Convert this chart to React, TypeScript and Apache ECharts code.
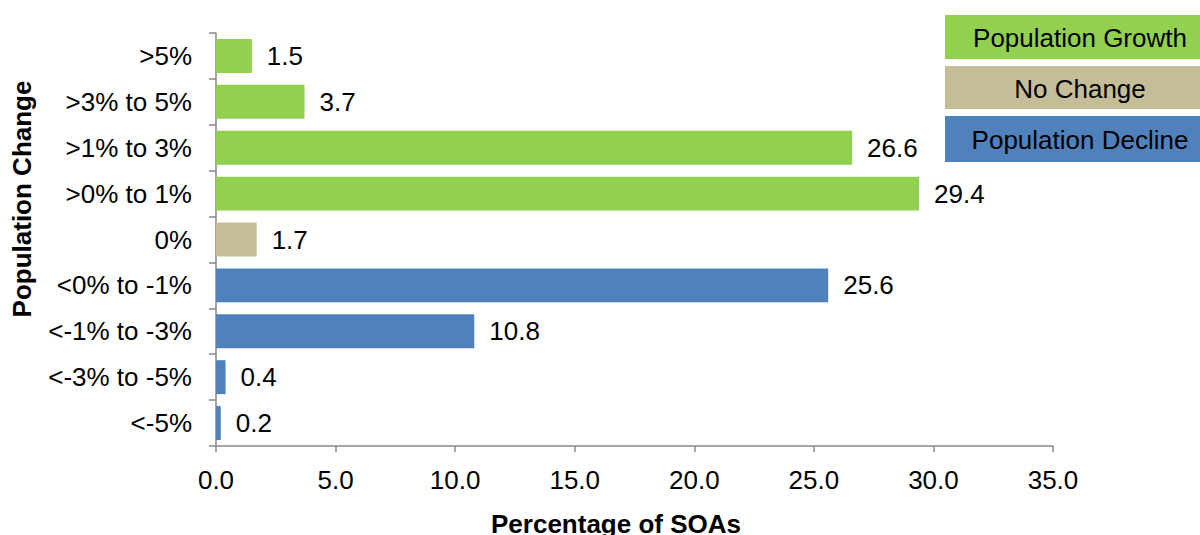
import React, { useEffect, useRef } from "react";
import * as echarts from "echarts";

const categories = [">5%", ">3% to 5%", ">1% to 3%", ">0% to 1%", "0%", "<0% to -1%", "<-1% to -3%", "<-3% to -5%", "<-5%"];
const values = [1.5, 3.7, 26.6, 29.4, 1.7, 25.6, 10.8, 0.4, 0.2];
const groups = ["growth", "growth", "growth", "growth", "none", "decline", "decline", "decline", "decline"];
const legendItems = [
  { key: "growth", label: "Population Growth" },
  { key: "none", label: "No Change" },
  { key: "decline", label: "Population Decline" },
];
const colors: Record<string, string> = { growth: "#92D050", none: "#C4BD97", decline: "#4F81BD" };

const FONT = "'Liberation Sans', Arial, sans-serif";

export default function App() {
  const ref = useRef<HTMLDivElement>(null);
  useEffect(() => {
    if (!ref.current) return;
    const chart = echarts.init(ref.current, null, { renderer: "svg" });
    const legendTops = [15, 66, 116];
    const legendHeights = [44, 43, 46];
    const legendGraphics: any[] = [];
    legendItems.forEach((it, i) => {
      legendGraphics.push({
        type: "rect",
        shape: { x: 945, y: legendTops[i], width: 260, height: legendHeights[i] },
        style: { fill: colors[it.key] },
      });
      legendGraphics.push({
        type: "text",
        x: 1080,
        y: legendTops[i] + legendHeights[i] / 2 + 1,
        style: {
          text: it.label,
          fill: "#000",
          font: `26px ${FONT}`,
          textAlign: "center",
          textVerticalAlign: "middle",
        },
      });
    });
    chart.setOption({
      animation: false,
      textStyle: { fontFamily: FONT },
      grid: { left: 216, right: 147, top: 33, bottom: 89, containLabel: false },
      xAxis: {
        type: "value",
        min: 0,
        max: 35,
        interval: 5,
        splitLine: { show: false },
        axisLine: { show: true, lineStyle: { color: "#898989", width: 1.5 } },
        axisTick: { show: true, length: 6, lineStyle: { color: "#898989", width: 1.5 } },
        axisLabel: {
          color: "#000",
          fontSize: 26,
          fontFamily: FONT,
          margin: 21,
          formatter: (v: number) => v.toFixed(1),
        },
      },
      yAxis: {
        type: "category",
        data: categories,
        inverse: true,
        axisLine: { show: true, lineStyle: { color: "#898989", width: 1.5 } },
        axisTick: { show: true, length: 7, lineStyle: { color: "#898989", width: 1.5 } },
        axisLabel: { color: "#000", fontSize: 26, fontFamily: FONT, margin: 24 },
      },
      series: [
        {
          type: "bar",
          barCategoryGap: "26%",
          data: values.map((v, i) => ({ value: v, itemStyle: { color: colors[groups[i]] } })),
          label: {
            show: true,
            position: "right",
            distance: 15,
            color: "#000",
            fontSize: 26,
            fontFamily: FONT,
            formatter: (p: any) => p.value.toFixed(1),
          },
        },
      ],
      graphic: [
        {
          type: "text",
          x: 22,
          y: 199,
          rotation: Math.PI / 2,
          style: {
            text: "Population Change",
            fill: "#000",
            font: `bold 26px ${FONT}`,
            textAlign: "center",
            textVerticalAlign: "middle",
          },
        },
        {
          type: "text",
          x: 616,
          y: 524,
          style: {
            text: "Percentage of SOAs",
            fill: "#000",
            font: `bold 26px ${FONT}`,
            textAlign: "center",
            textVerticalAlign: "middle",
          },
        },
        ...legendGraphics,
      ],
    });
    return () => chart.dispose();
  }, []);
  return <div ref={ref} style={{ width: 1200, height: 535, position: "absolute", left: 0, top: 0 }} />;
}
